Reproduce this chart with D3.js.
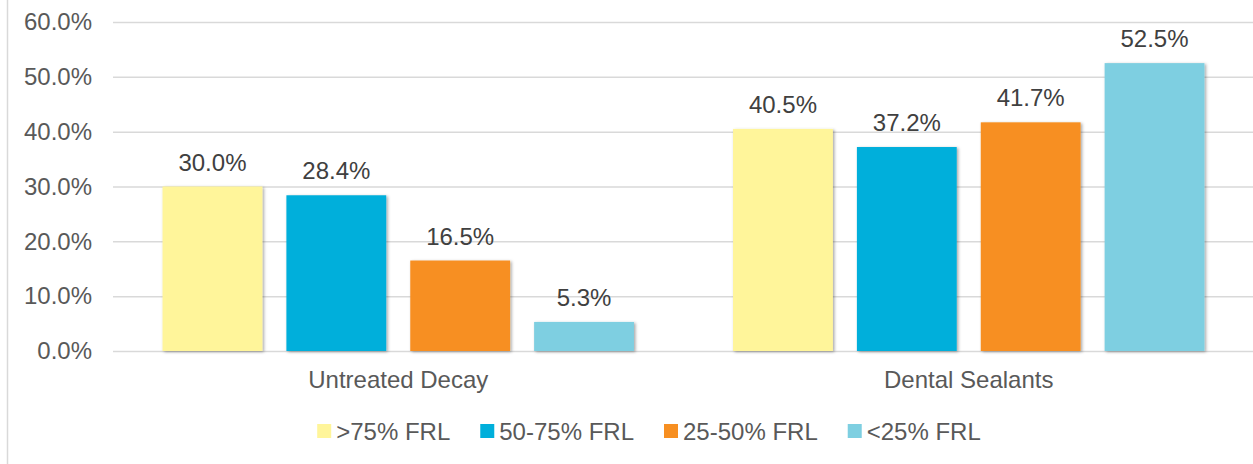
<!DOCTYPE html>
<html>
<head>
<meta charset="utf-8">
<script src="https://cdn.jsdelivr.net/npm/d3@7"></script>
<style>
  body { margin: 0; background: #fff; }
  svg { display: block; font-family: 'Liberation Sans', Arial, sans-serif; }
</style>
</head>
<body>
<svg width="1253" height="464"></svg>
<script>
// chart data
const categories = ['Untreated Decay', 'Dental Sealants'];
const seriesNames = ['>75% FRL', '50-75% FRL', '25-50% FRL', '<25% FRL'];
const untreatedDecay = [0.300, 0.284, 0.165, 0.053];
const dentalSealants = [0.405, 0.372, 0.417, 0.525];
const yTicks = [0, 0.1, 0.2, 0.3, 0.4, 0.5, 0.6];
const colors = ['#fff59a', '#00afdb', '#f78f21', '#7ecfe1'];

const rows = [untreatedDecay, dentalSealants];

let svg = d3.select('svg');

const plot = {left: 113, right: 1254, top: 22, bottom: 351};

// border on the left of the chart area
svg.append('line')
    .attr('x1', 7.5).attr('x2', 7.5)
    .attr('y1', 0).attr('y2', 464)
    .attr('stroke', '#d9d9d9')
    .attr('stroke-width', 1.5);

let defs = svg.append('defs');
let shadow = defs.append('filter')
    .attr('id', 'shadow')
    .attr('x', '-10%').attr('y', '-10%')
    .attr('width', '130%').attr('height', '130%');
shadow.append('feDropShadow')
    .attr('dx', 1.5).attr('dy', 1)
    .attr('stdDeviation', 1.5)
    .attr('flood-color', '#000')
    .attr('flood-opacity', 0.35);

let x0 = d3.scaleBand().domain(categories).range([plot.left, plot.right]);
let x1 = d3.scaleBand().domain(seriesNames)
    .range([0, x0.bandwidth()])
    .paddingInner(0.194)
    .paddingOuter(0.4);
let y = d3.scaleLinear().domain([0, 0.6]).range([plot.bottom, plot.top]);

// y axis with gridlines
let yAxis = svg.append('g')
    .attr('transform', `translate(${plot.left}, 0)`)
    .call(d3.axisLeft(y).tickValues(yTicks).tickFormat(d3.format('.1%'))
      .tickSize(-(plot.right - plot.left)).tickPadding(21));
yAxis.select('.domain').remove();
yAxis.selectAll('.tick line')
    .attr('stroke', '#d9d9d9')
    .attr('stroke-width', 1.5);
yAxis.selectAll('.tick text')
    .attr('fill', '#595959')
    .attr('font-size', '24px')
    .attr('font-family', "'Liberation Sans', Arial, sans-serif");

// x axis category labels
let xAxis = svg.append('g')
    .attr('transform', `translate(0, ${plot.bottom})`)
    .call(d3.axisBottom(x0).tickSize(0).tickPadding(20));
xAxis.select('.domain').remove();
xAxis.selectAll('.tick text')
    .attr('fill', '#595959')
    .attr('font-size', '24px')
    .attr('font-family', "'Liberation Sans', Arial, sans-serif");

// bars
let groups = svg.append('g')
  .selectAll('g')
  .data(categories)
  .enter().append('g')
    .attr('transform', (d) => `translate(${x0(d)}, 0)`);

groups.selectAll('rect')
  .data((d, i) => rows[i].map((v, j) => ({key: seriesNames[j], value: v, color: colors[j]})))
  .enter().append('rect')
    .attr('x', (d) => x1(d.key))
    .attr('y', (d) => y(d.value))
    .attr('width', x1.bandwidth())
    .attr('height', (d) => y(0) - y(d.value))
    .attr('fill', (d) => d.color)
    .attr('filter', 'url(#shadow)');

groups.selectAll('text')
  .data((d, i) => rows[i].map((v, j) => ({key: seriesNames[j], value: v})))
  .enter().append('text')
    .attr('x', (d) => x1(d.key) + x1.bandwidth() / 2)
    .attr('y', (d) => y(d.value) - 16)
    .attr('text-anchor', 'middle')
    .attr('fill', '#404040')
    .attr('font-size', '24px')
    .text((d) => d3.format('.1%')(d.value));

// legend
let legend = svg.append('g').attr('transform', 'translate(0, 431)');
let items = legend.selectAll('g')
  .data(seriesNames)
  .enter().append('g');
items.append('rect')
    .attr('y', -7)
    .attr('width', 14).attr('height', 14)
    .attr('fill', (d, i) => colors[i]);
items.append('text')
    .attr('x', 19)
    .attr('y', 9)
    .attr('fill', '#595959')
    .attr('font-size', '24px')
    .text((d) => d);

let widths = [];
items.each(function() { widths.push(19 + this.querySelector('text').getComputedTextLength()); });
const gap = 30;
let total = d3.sum(widths) + gap * (widths.length - 1);
let pos = 649 - total / 2;
items.attr('transform', (d, i) => {
  let p = pos;
  pos += widths[i] + gap;
  return `translate(${p}, 0)`;
});
</script>
</body>
</html>
